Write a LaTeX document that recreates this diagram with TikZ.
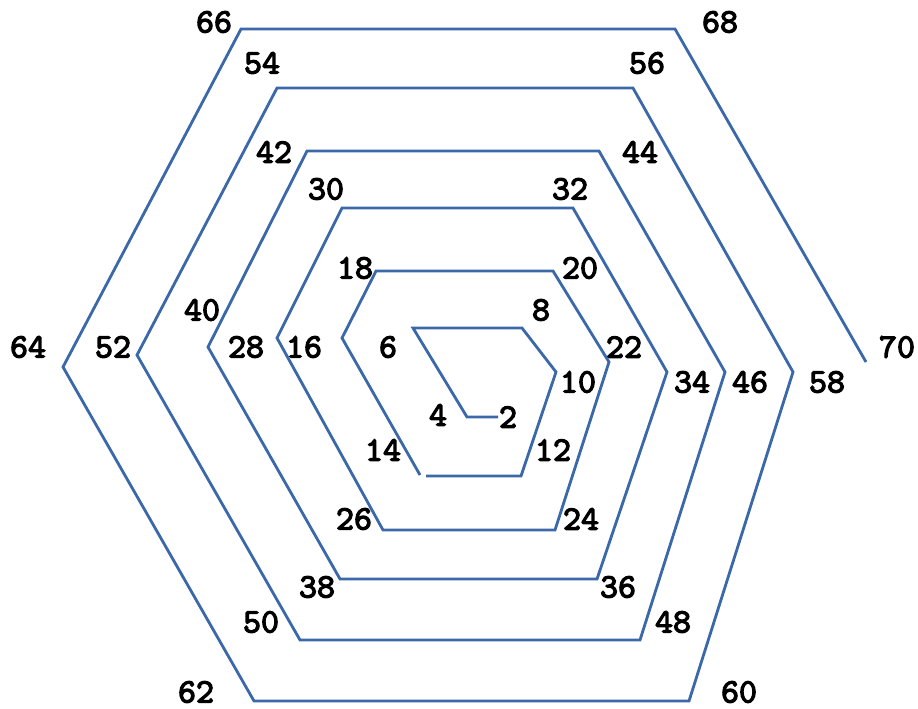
\documentclass[tikz,border=0pt]{standalone}
\usepackage{fontspec}
\usepackage{tikz}
\usepackage{xcolor}
\newfontfamily\numfont[FakeBold=3.5]{lmmono10-regular.otf}
\definecolor{spiralblue}{RGB}{58, 104, 168}

\begin{document}
\begin{tikzpicture}[x=0.02cm, y=-0.02cm,
    num/.style={font=\fontsize{19.5}{19.5}\selectfont\numfont, inner sep=0pt}]
            \useasboundingbox (0,0) rectangle (918,708);
            \draw[spiralblue, line width=1.6pt, line join=miter]
                (498,417) -- (467,417) -- (413,328) -- (522,328) -- (556,372) -- (521,476) -- (426,476)
                (420,475) -- (342,338) -- (376,271) -- (553,271) -- (609,362) -- (555,530) -- (383,530)
                -- (277,338) -- (342,208) -- (573,208) -- (667,372) -- (597,579) -- (340,579)
                -- (208,347) -- (307,151) -- (599,151) -- (725,372) -- (640,640) -- (300,640)
                -- (137,355) -- (277,88) -- (633,88) -- (793,372) -- (689,701) -- (254,701)
                -- (63,367) -- (241,29) -- (675,29) -- (866,362);
            % inner turns
            \node[num] (n2) at (508,417) {2};
            \node[num] (n4) at (438,415) {4};
            \node[num] (n6) at (388,347) {6};
            \node[num] (n8) at (541,310) {8};
            \node[num] (n10) at (578,382) {10};
            \node[num] (n12) at (553,450) {12};
            \node[num] (n14) at (383,450) {14};
            \node[num] (n16) at (304,347) {16};
            \node[num] (n18) at (355,268) {18};
            \node[num] (n20) at (580,268) {20};
            \node[num] (n22) at (624,347) {22};
            \node[num] (n24) at (581,519) {24};
            \node[num] (n26) at (354,519) {26};
            \node[num] (n28) at (246,347) {28};
            \node[num] (n30) at (326,189) {30};
            \node[num] (n32) at (570,189) {32};
            \node[num] (n34) at (692,382) {34};
            \node[num] (n36) at (618,587) {36};
            \node[num] (n38) at (317,587) {38};
            \node[num] (n40) at (202,310) {40};
            % outer turns
            \node[num] (n42) at (274,152) {42};
            \node[num] (n44) at (640,152) {44};
            \node[num] (n46) at (750,382) {46};
            \node[num] (n48) at (673,622) {48};
            \node[num] (n50) at (261,622) {50};
            \node[num] (n52) at (113,347) {52};
            \node[num] (n54) at (262,63) {54};
            \node[num] (n56) at (647,63) {56};
            \node[num] (n58) at (827,382) {58};
            \node[num] (n60) at (739,692) {60};
            \node[num] (n62) at (196,692) {62};
            \node[num] (n64) at (28,347) {64};
            \node[num] (n66) at (214,22) {66};
            \node[num] (n68) at (720,22) {68};
            \node[num] (n70) at (897,347) {70};
        \end{tikzpicture}
\end{document}
